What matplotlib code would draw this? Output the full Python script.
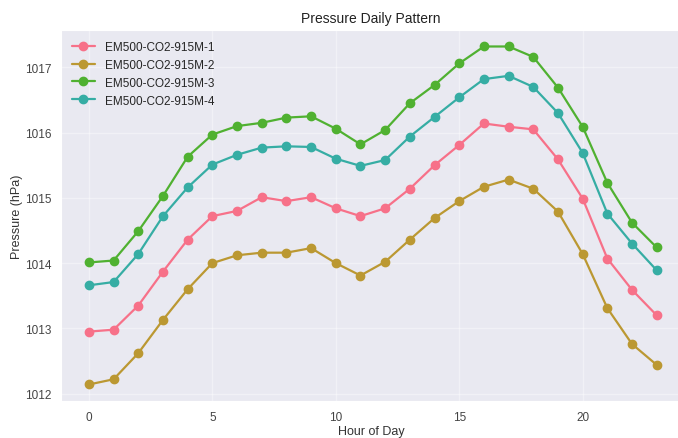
import matplotlib
matplotlib.use("Agg")
import matplotlib.pyplot as plt
import seaborn as sns

hours = list(range(24))
series_names = ["EM500-CO2-915M-1", "EM500-CO2-915M-2", "EM500-CO2-915M-3", "EM500-CO2-915M-4"]

s1 = [1012.95, 1012.98, 1013.35, 1013.87, 1014.36, 1014.72, 1014.80, 1015.01, 1014.95, 1015.01,
      1014.84, 1014.72, 1014.84, 1015.14, 1015.50, 1015.81, 1016.14, 1016.09, 1016.05, 1015.59,
      1014.99, 1014.07, 1013.59, 1013.20]
s2 = [1012.14, 1012.22, 1012.62, 1013.13, 1013.60, 1014.00, 1014.12, 1014.16, 1014.16, 1014.23,
      1014.00, 1013.81, 1014.02, 1014.36, 1014.69, 1014.95, 1015.17, 1015.28, 1015.14, 1014.79,
      1014.14, 1013.31, 1012.76, 1012.44]
s3 = [1014.01, 1014.04, 1014.49, 1015.03, 1015.63, 1015.97, 1016.10, 1016.15, 1016.23, 1016.25,
      1016.06, 1015.82, 1016.04, 1016.45, 1016.73, 1017.06, 1017.32, 1017.32, 1017.16, 1016.69,
      1016.09, 1015.23, 1014.62, 1014.24]
s4 = [1013.66, 1013.71, 1014.14, 1014.72, 1015.16, 1015.51, 1015.66, 1015.77, 1015.79, 1015.78,
      1015.60, 1015.49, 1015.58, 1015.94, 1016.24, 1016.54, 1016.82, 1016.87, 1016.70, 1016.30,
      1015.69, 1014.76, 1014.30, 1013.89]
all_series = [s1, s2, s3, s4]

sns.set_style("darkgrid")
plt.rcParams['font.family'] = ['Liberation Sans', 'DejaVu Sans']
colors = sns.color_palette("husl", 6)

fig = plt.figure(figsize=(6.78, 4.39), dpi=100)
ax = fig.add_axes([0.090, 0.084, 0.915, 0.845])
ax.set_facecolor('#e9e9f1')
ax.grid(True, color='white', alpha=0.4, linewidth=1.0)

for name, vals, c in zip(series_names, all_series, colors):
    ax.plot(hours, vals, marker='o', markersize=6, linewidth=1.6, color=c, label=name)

ax.set_xlim(-1.13, 24.0)
ax.set_ylim(1011.885, 1017.57)
ax.set_xticks([0, 5, 10, 15, 20])
ax.set_yticks([1012, 1013, 1014, 1015, 1016, 1017])
ax.tick_params(labelsize=8.5, colors='#444444')
ax.set_xlabel("Hour of Day", fontsize=9, color='#333333')
ax.set_ylabel("Pressure (hPa)", fontsize=9, color='#333333')
ax.xaxis.set_label_coords(0.5, -0.065)
ax.yaxis.set_label_coords(-0.062, 0.5)
ax.set_title("Pressure Daily Pattern", fontsize=10, color='#222222')
ax.legend(loc='upper left', frameon=False, fontsize=8.5)

fig.savefig("out.png", dpi=100)
